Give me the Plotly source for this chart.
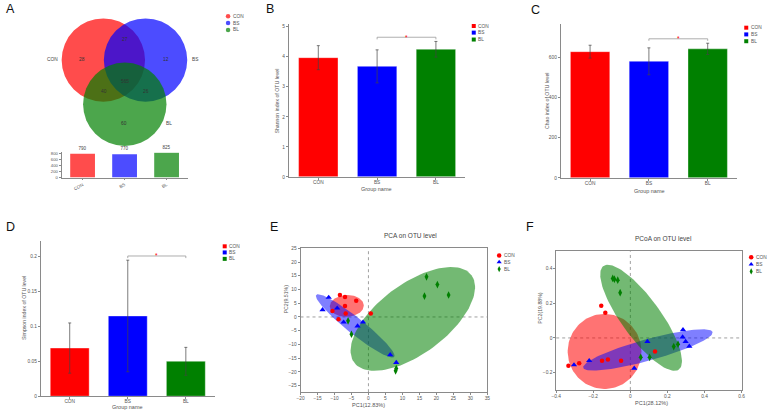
import numpy as np
import plotly.graph_objects as go

W, H = 771, 414

groups = ["CON", "BS", "BL"]
colors = ["#ff0000", "#0000ff", "#008000"]
venn_colors = ["#ff0000", "#0000ff", "#008000"]

# ---- Panel A: Venn counts and totals ----
venn_regions = ["CON only", "CON&BS", "BS only", "CON&BS&BL", "CON&BL", "BS&BL", "BL only"]
venn_counts = [28, 27, 12, 565, 40, 26, 60]
venn_totals = [790, 770, 825]

# ---- Panel B: Shannon ----
shannon_mean = [3.97, 3.68, 4.25]
shannon_err = [0.40, 0.55, 0.26]
shannon_sig = 4.65
# ---- Panel C: Chao ----
chao_mean = [628, 580, 642]
chao_err = [32, 67, 28]
chao_sig = 692
# ---- Panel D: Simpson ----
simpson_mean = [0.069, 0.115, 0.050]
simpson_err = [0.036, 0.080, 0.020]
simpson_sig = 0.201

# ---- Panel E: PCA ----
pca_con_x = [-8.4, -6.9, -3.6, -6.9, -10.6, -6.7, -8.8, 0.7]
pca_con_y = [8.0, 7.3, 5.9, 4.0, 2.2, 1.3, -0.8, 1.3]
pca_bs_x = [-11.7, -13.5, -9.2, -7.3, -3.2, -1.6, 6.4, 8.2]
pca_bs_y = [7.1, 2.6, 3.2, -1.9, -3.3, -1.9, -13.8, -16.6]
pca_bl_x = [17.1, 20.3, 16.5, 23.6, -6.0, -5.0, 8.2, 8.0]
pca_bl_y = [14.6, 11.8, 7.6, 8.0, -1.4, -6.3, -18.8, -19.6]
pca_ell_center = [(-6.37, 4.02), (-3.9, -3.24), (13.07, -0.72)]
pca_ell_u = [(5.0, 0.3), (11.48, -11.29), (17.27, 15.91)]
pca_ell_v = [(-0.2, 3.96), (1.50, 2.34), (-6.14, 10.18)]

# ---- Panel F: PCoA ----
pcoa_con_x = [-0.334, -0.276, -0.157, -0.135, -0.153, -0.121, -0.050, 0.133]
pcoa_con_y = [-0.161, -0.146, 0.185, 0.145, -0.131, -0.125, -0.131, -0.078]
pcoa_bs_x = [-0.304, -0.222, 0.021, 0.092, 0.284, 0.282, 0.298, 0.318]
pcoa_bs_y = [-0.156, -0.131, -0.175, -0.021, 0.047, 0.005, -0.021, -0.048]
pcoa_bl_x = [-0.095, -0.086, -0.068, -0.055, 0.056, 0.104, 0.234, 0.257]
pcoa_bl_y = [0.343, 0.339, 0.333, 0.261, -0.112, -0.112, -0.050, -0.036]
pcoa_ell_center = [(-0.139, -0.078), (0.0947, -0.069), (0.058, 0.116)]
pcoa_ell_u = [(0.199, 0.0), (0.349, 0.1028), (0.2031, -0.2987)]
pcoa_ell_v = [(0.0, 0.2165), (-0.0143, 0.0600), (0.0854, 0.0663)]

FONT = "Liberation Sans, Arial, sans-serif"
TXT = "#555555"
AX = "#8a8a8a"


def xd(a, b):
    return [a / W, b / W]


def yd(t, b):
    return [1 - b / H, 1 - t / H]


def ellipse(c, u, v, n=120):
    t = np.linspace(0, 2 * np.pi, n)
    return (c[0] + u[0] * np.cos(t) + v[0] * np.sin(t),
            c[1] + u[1] * np.cos(t) + v[1] * np.sin(t))


fig = go.Figure()

# Panel A bars
fig.add_trace(go.Bar(x=groups, y=venn_totals, xaxis="x", yaxis="y",
                     marker=dict(color=venn_colors, opacity=0.7, line=dict(width=0)),
                     width=0.59, text=[str(v) for v in venn_totals], textposition="outside",
                     textfont=dict(size=4.5, color="#444", family=FONT), cliponaxis=False,
                     showlegend=False))

# Panels B, C, D
def add_bars(means, errs, sig, xa, ya, tick):
    fig.add_trace(go.Bar(x=groups, y=means, xaxis=xa, yaxis=ya, width=0.67,
                         marker=dict(color=colors, line=dict(width=0.6, color="rgba(255,255,255,0.6)")),
                         error_y=dict(type="data", array=errs, color="#444", thickness=0.7, width=1.5),
                         showlegend=False))
    fig.add_trace(go.Scatter(x=["BS", "BS", "BL", "BL"], y=[sig - tick, sig, sig, sig - tick],
                             xaxis=xa, yaxis=ya, mode="lines",
                             line=dict(color="#999", width=0.8), showlegend=False,
                             cliponaxis=False))

add_bars(shannon_mean, shannon_err, shannon_sig, "x2", "y2", 0.07)
add_bars(chao_mean, chao_err, chao_sig, "x3", "y3", 10)
add_bars(simpson_mean, simpson_err, simpson_sig, "x4", "y4", 0.003)

ell_fill = ["rgba(255,0,0,0.55)", "rgba(0,0,255,0.5)", "rgba(0,128,0,0.55)"]

# Panel E
for c, u, v, f in zip(pca_ell_center, pca_ell_u, pca_ell_v, ell_fill):
    ex, ey = ellipse(c, u, v)
    fig.add_trace(go.Scatter(x=ex, y=ey, xaxis="x5", yaxis="y5", mode="lines", fill="toself",
                             fillcolor=f, line=dict(width=0), showlegend=False, hoverinfo="skip"))
sym = ["circle", "triangle-up", "diamond-tall"]
sizes = [4.5, 5.5, 5.5]
for xs, ys, col, s, sz in zip([pca_con_x, pca_bs_x, pca_bl_x], [pca_con_y, pca_bs_y, pca_bl_y],
                              colors, sym, sizes):
    fig.add_trace(go.Scatter(x=xs, y=ys, xaxis="x5", yaxis="y5", mode="markers",
                             marker=dict(color=col, symbol=s, size=sz, line=dict(width=0)),
                             showlegend=False))

# Panel F
for c, u, v, f in zip(pcoa_ell_center, pcoa_ell_u, pcoa_ell_v, ell_fill):
    ex, ey = ellipse(c, u, v)
    fig.add_trace(go.Scatter(x=ex, y=ey, xaxis="x6", yaxis="y6", mode="lines", fill="toself",
                             fillcolor=f, line=dict(width=0), showlegend=False, hoverinfo="skip"))
for xs, ys, col, s, sz in zip([pcoa_con_x, pcoa_bs_x, pcoa_bl_x], [pcoa_con_y, pcoa_bs_y, pcoa_bl_y],
                              colors, sym, sizes):
    fig.add_trace(go.Scatter(x=xs, y=ys, xaxis="x6", yaxis="y6", mode="markers",
                             marker=dict(color=col, symbol=s, size=sz, line=dict(width=0)),
                             showlegend=False))

# Overlay pixel axis: legends
legend_specs = [
    (225.7, [14.3, 21.3, 28.3], ["circle"] * 3, 4.5, 0.7),
    (474.3, [24.3, 31.0, 38.0], ["square"] * 3, 4, 1),
    (750.0, [26.0, 32.8, 39.7], ["square"] * 3, 4, 1),
    (222.3, [247.3, 253.5, 260.0], ["square"] * 3, 4, 1),
    (500.0, [256.7, 263.3, 270.3], ["circle", "triangle-up", "diamond-tall"], 4.5, 1),
    (755.0, [258.3, 265.5, 272.7], ["circle", "triangle-up", "diamond-tall"], 4.5, 1),
]
annotations = []
for lx, lys, syms, sz, op in legend_specs:
    fig.add_trace(go.Scatter(x=[lx] * 3, y=lys, xaxis="x7", yaxis="y7", mode="markers",
                             marker=dict(color=colors, symbol=syms, size=sz, opacity=op, line=dict(width=0)),
                             showlegend=False, hoverinfo="skip", cliponaxis=False))
    for g, ly in zip(groups, lys):
        annotations.append(dict(x=lx + 2.5, y=ly, xref="x7", yref="y7", text=g, showarrow=False,
                                xanchor="left", yanchor="middle",
                                font=dict(size=4.8, color=TXT, family=FONT)))

# Venn circles
venn_centers = [(99.5, 58.8), (142.2, 58.8), (121.2, 103.5)]
R = 42.2
shapes = []
for (cx, cy), col in zip(venn_centers, venn_colors):
    shapes.append(dict(type="circle", xref="x7", yref="y7", x0=cx - R, x1=cx + R,
                       y0=cy - R, y1=cy + R, fillcolor=col, opacity=0.7, line=dict(width=0),
                       layer="below"))
venn_text_pos = [(78.3, 58.7), (121.0, 37.7), (163.3, 58.7), (121.0, 80.0),
                 (100.0, 91.0), (142.3, 91.0), (120.7, 122.7)]
for (tx, ty), cnt in zip(venn_text_pos, venn_counts):
    annotations.append(dict(x=tx, y=ty, xref="x7", yref="y7", text=str(cnt), showarrow=False,
                            font=dict(size=4.8, color="#333", family=FONT)))
for (tx, ty), g in zip([(47.7, 58.7), (192.7, 58.7), (166.0, 122.7)], groups):
    annotations.append(dict(x=tx, y=ty, xref="x7", yref="y7", text=g, showarrow=False,
                            font=dict(size=4.8, color="#444", family=FONT)))

# Zero lines in E and F
for xa, ya in [("x5", "y5"), ("x6", "y6")]:
    shapes.append(dict(type="line", xref=xa, yref=ya + " domain", x0=0, x1=0, y0=0, y1=1,
                       line=dict(color="#777", width=0.7, dash="dot"), layer="below"))
    shapes.append(dict(type="line", xref=xa + " domain", yref=ya, x0=0, x1=1, y0=0, y1=0,
                       line=dict(color="#777", width=0.7, dash="dot"), layer="below"))

# Significance stars
for xa, ya, yv in [("x2", "y2", shannon_sig), ("x3", "y3", chao_sig), ("x4", "y4", simpson_sig)]:
    annotations.append(dict(x=1.5, y=yv, xref=xa, yref=ya, text="*", showarrow=False,
                            yshift=0, font=dict(size=6.5, color="#ff0000", family=FONT)))

# Text helpers (pixel overlay)
def ptext(x, y, t, size=5.5, color=TXT, angle=0, anchor="center"):
    annotations.append(dict(x=x, y=y, xref="x7", yref="y7", text=t, showarrow=False,
                            textangle=angle, xanchor=anchor, yanchor="middle",
                            font=dict(size=size, color=color, family=FONT)))

for x, y, t in [(5.3, 7.3, "A"), (268.5, 7.0, "B"), (537.0, 7.6, "C"),
                (6.0, 227.8, "D"), (272.5, 227.3, "E"), (531.0, 227.3, "F")]:
    ptext(x, y, t, size=12.5, color="#111")

ptext(275.0, 100.0, "Shannon index of OTU level", 5.2, angle=-90)
ptext(376.0, 189.0, "Group name", 5.5)
ptext(547.7, 100.0, "Chao index of OTU level", 5.2, angle=-90)
ptext(652.0, 191.0, "Group name", 5.5)
ptext(19.0, 310.0, "Simpson index of OTU level", 5.2, angle=-90)
ptext(124.0, 410.2, "Group name", 5.5)
ptext(410.7, 236.7, "PCA on OTU level", 6.5, color="#444")
ptext(367.5, 407.5, "PC1(12.83%)", 5.5)
ptext(284.3, 300.0, "PC2(9.51%)", 5.2, angle=-90)
ptext(666.0, 239.3, "PCoA on OTU level", 6.5, color="#444")
ptext(654.0, 406.3, "PC1(28.12%)", 5.5)
ptext(541.7, 310.0, "PC2(19.88%)", 5.2, angle=-90)

tickfont = dict(size=4.8, color=TXT, family=FONT)
base = dict(showline=True, linecolor=AX, linewidth=0.8, ticks="outside", ticklen=2,
            tickwidth=0.6, tickcolor=AX, showgrid=False, zeroline=False, tickfont=tickfont,
            fixedrange=True)

layout = dict(
    width=W, height=H, margin=dict(l=0, r=0, t=0, b=0),
    paper_bgcolor="white", plot_bgcolor="rgba(0,0,0,0)", showlegend=False,
    font=dict(family=FONT),
    xaxis=dict(base, domain=xd(57.25, 184.75), range=[-0.5, 2.5], anchor="y",
               tickangle=-30, tickfont=dict(size=4.5, color=TXT, family=FONT)),
    yaxis=dict(base, domain=yd(152.1, 177.7), range=[0, 840], anchor="x",
               tickvals=[0, 200, 400, 600, 800], tickfont=dict(size=4.2, color=TXT, family=FONT)),
    xaxis2=dict(base, domain=xd(287.25, 465.75), range=[-0.5, 2.5], anchor="y2",
                ticklabelstandoff=-2),
    yaxis2=dict(base, domain=yd(22, 177), range=[0, 5.1], anchor="x2", dtick=1),
    xaxis3=dict(base, domain=xd(562.25, 740.75), range=[-0.5, 2.5], anchor="y3",
                ticklabelstandoff=-2),
    yaxis3=dict(base, domain=yd(22, 178), range=[0, 767], anchor="x3",
                tickvals=[0, 200, 400, 600]),
    xaxis4=dict(base, domain=xd(36.1, 212.35), range=[-0.5, 2.5], anchor="y4",
                ticklabelstandoff=-2),
    yaxis4=dict(base, domain=yd(242, 399), range=[0, 0.2224], anchor="x4",
                tickvals=[0, 0.05, 0.1, 0.15, 0.2], ticktext=["0", "0.05", "0.1", "0.15", "0.2"]),
    xaxis5=dict(base, domain=xd(299, 488), range=[-20, 35], anchor="y5", dtick=5, mirror=True,
                ticklabelstandoff=-1),
    yaxis5=dict(base, domain=yd(249.3, 395), range=[-27.4, 25], anchor="x5", dtick=5, mirror=True),
    xaxis6=dict(base, domain=xd(557.7, 745.3), range=[-0.4, 0.6], anchor="y6", dtick=0.2, mirror=True,
                ticklabelstandoff=-1),
    yaxis6=dict(base, domain=yd(252.3, 392.7), range=[-0.3, 0.5], anchor="x6",
                tickvals=[-0.2, 0, 0.2, 0.4], mirror=True),
    xaxis7=dict(domain=[0, 1], range=[0, W], visible=False, anchor="y7", fixedrange=True),
    yaxis7=dict(domain=[0, 1], range=[H, 0], visible=False, anchor="x7", fixedrange=True),
    shapes=shapes, annotations=annotations,
)
fig.update_layout(**layout)
fig.write_html("out.html", config={"displayModeBar": False},
               post_script="document.body.style.margin='0px';document.body.style.overflow='hidden';")
